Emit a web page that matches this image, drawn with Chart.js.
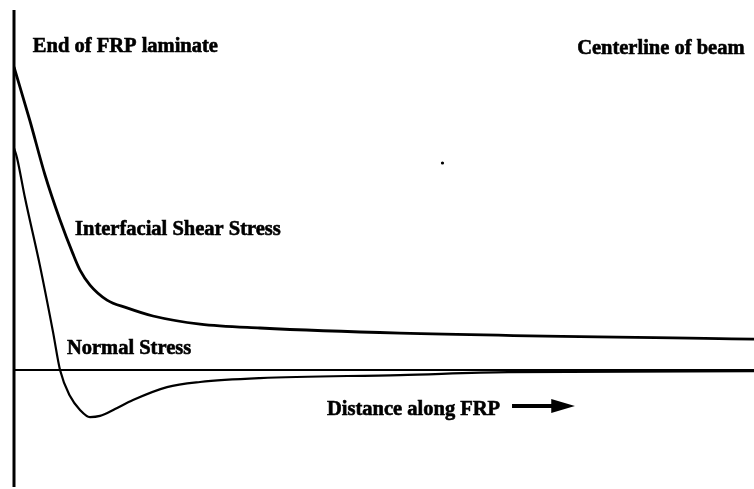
<!DOCTYPE html>
<html lang="en">
<head>
  <meta charset="UTF-8">
  <title>Interfacial stresses along FRP laminate</title>
  <script src="https://cdn.jsdelivr.net/npm/chart.js"></script>
  <style>
    html, body { margin: 0; padding: 0; background: #fff; }
    .wrap { width: 754px; height: 489px; position: relative; }
  </style>
</head>
<body>
  <div class="wrap">
    <canvas id="stressChart" width="754" height="489"></canvas>
  </div>

  <script>
    // distance along the FRP (0 = laminate end, 100 = beam centreline)
    const shearX = [0, 2.16, 4.19, 6.22, 7.97, 8.92, 10.27, 12.57, 15.27, 18.78, 25.14, 33.24, 52.16, 100];
    const shearY = [101, 83, 65, 50, 38.7, 33.3, 28.3, 23.3, 20.7, 18, 15.3, 14, 12.3, 10.3];

    const normalX = [0, 0.41, 1.49, 3.51, 5.27, 6.22, 7.57, 8.92, 10.27, 11.62, 13.65, 16.08, 20.68, 25.14, 33.24, 52.16, 66.76, 100];
    const normalY = [74, 70.7, 57.3, 34.7, 12.7, 0, -8.7, -13.3, -15.7, -15.3, -13, -10, -5.7, -4, -2.7, -1.7, -0.7, -0.4];

    const toPoints = (xs, ys) => xs.map((x, i) => ({ x: x, y: ys[i] }));

    const FONT = 'bold 20.5px "Liberation Serif", "DejaVu Serif", serif';

    // text notes placed in data units: [text, x, y]
    const notes = [
      ['End of FRP laminate', 2.55, 106],
      ['Centerline of beam', 76.1, 105.4],
      ['Interfacial Shear Stress', 8.25, 45],
      ['Normal Stress', 7.15, 5.3],
      ['Distance along FRP', 42.3, -15]
    ];

    const sketchLayer = {
      id: 'sketchLayer',
      afterDatasetsDraw(chart) {
        const { ctx, scales: { x, y } } = chart;
        const px = v => x.getPixelForValue(v);
        const py = v => y.getPixelForValue(v);
        ctx.save();
        ctx.strokeStyle = '#000';
        ctx.fillStyle = '#000';

        // vertical axis at the laminate end
        ctx.lineWidth = 3;
        ctx.beginPath();
        ctx.moveTo(px(0), py(y.max));
        ctx.lineTo(px(0), py(y.min));
        ctx.stroke();

        // zero stress line
        ctx.lineWidth = 2;
        ctx.beginPath();
        ctx.moveTo(px(0), py(0));
        ctx.lineTo(px(x.max), py(0));
        ctx.stroke();

        // labels, slightly outlined so they read heavy
        ctx.font = FONT;
        ctx.textBaseline = 'alphabetic';
        ctx.lineWidth = 0.6;
        notes.forEach(([t, nx, ny]) => {
          ctx.fillText(t, px(nx), py(ny));
          ctx.strokeText(t, px(nx), py(ny));
        });

        // arrow after "Distance along FRP"
        const ay = py(-12);
        ctx.lineWidth = 4;
        ctx.beginPath();
        ctx.moveTo(px(67.3), ay);
        ctx.lineTo(px(73), ay);
        ctx.stroke();
        ctx.beginPath();
        ctx.moveTo(px(72.6), ay - 7);
        ctx.lineTo(px(75.8), ay);
        ctx.lineTo(px(72.6), ay + 7);
        ctx.closePath();
        ctx.fill();

        // small dot
        ctx.beginPath();
        ctx.arc(px(57.9), py(69), 1.6, 0, Math.PI * 2);
        ctx.fill();
        ctx.restore();
      }
    };

    new Chart(document.getElementById('stressChart'), {
      type: 'line',
      data: {
        datasets: [
          {
            label: 'Interfacial Shear Stress',
            data: toPoints(shearX, shearY),
            borderColor: '#000',
            borderWidth: 2.8,
            pointRadius: 0,
            cubicInterpolationMode: 'monotone'
          },
          {
            label: 'Normal Stress',
            data: toPoints(normalX, normalY),
            borderColor: '#000',
            borderWidth: 2.2,
            pointRadius: 0,
            cubicInterpolationMode: 'monotone'
          }
        ]
      },
      options: {
        responsive: false,
        animation: false,
        layout: { padding: { left: 14, right: 0, top: 10, bottom: 2 } },
        plugins: { legend: { display: false }, tooltip: { enabled: false } },
        scales: {
          x: { type: 'linear', min: 0, max: 100, display: false },
          y: { min: -39, max: 120, display: false }
        }
      },
      plugins: [sketchLayer]
    });
  </script>
</body>
</html>
